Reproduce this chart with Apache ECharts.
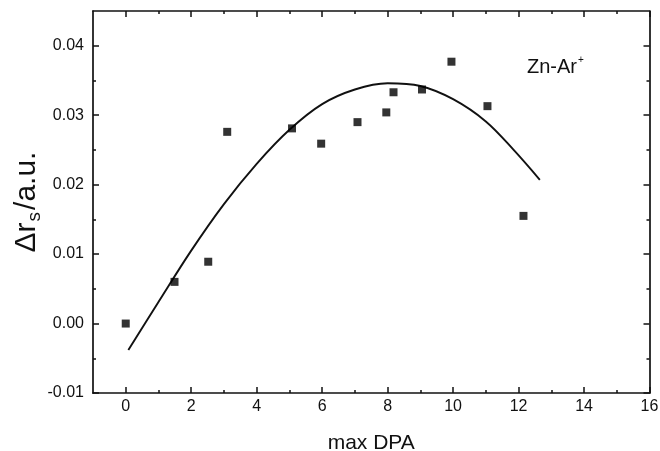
<!DOCTYPE html>
<html>
<head>
<meta charset="utf-8">
<script src="https://cdn.jsdelivr.net/npm/echarts@6/dist/echarts.min.js"></script>
<style>
  html, body { margin: 0; padding: 0; background: #fff; }
  #chart { width: 660px; height: 451px; }
</style>
</head>
<body>
<div id="chart"></div>
<script>
// ---- data ----
const dpaValues = [0, 1.49, 2.52, 3.10, 5.08, 5.97, 7.08, 7.96, 8.18, 9.05, 9.95, 11.05, 12.15];
const drValues  = [0.0000, 0.0060, 0.0089, 0.0276, 0.0281, 0.0259, 0.0290, 0.0304, 0.0333, 0.0337, 0.0377, 0.0313, 0.0155];

// fitted curve at roughly unit steps
const fitX = [0.08, 1, 2, 3, 4, 5, 6, 7, 8, 9, 10, 11, 11.85, 12.65];
const fitY = [-0.0038, 0.0031, 0.0105, 0.0172, 0.0230, 0.0279, 0.0316, 0.0337, 0.0346, 0.0342, 0.0323, 0.0291, 0.0250, 0.0207];

const xMajorTicks = [0, 2, 4, 6, 8, 10, 12, 14, 16];
const xMinorTicks = [1, 3, 5, 7, 9, 11, 13, 15];
const yMajorTicks = [-0.01, 0.00, 0.01, 0.02, 0.03, 0.04];
const yMinorTicks = [-0.005, 0.005, 0.015, 0.025, 0.035];

const xLabel = 'max DPA';
const seriesLabel = 'Zn-Ar';

// ---- chart ----
const FONT = 'Liberation Sans, Arial, sans-serif';
const INK = '#111111';
const chart = echarts.init(document.getElementById('chart'), null, { renderer: 'canvas' });

function xAxisDef(pos, values, tickLen, withLabels, showLine) {
  return {
    type: 'value', position: pos, min: -1, max: 16,
    axisLine: { show: showLine, onZero: false, lineStyle: { color: INK, width: 1.7 } },
    axisTick: { show: true, inside: true, length: tickLen, customValues: values, lineStyle: { color: INK, width: 1.5 } },
    axisLabel: withLabels
      ? { show: true, customValues: values, fontSize: 16, fontFamily: FONT, color: INK, margin: 6 }
      : { show: false },
    splitLine: { show: false }
  };
}
function yAxisDef(pos, values, tickLen, withLabels, showLine) {
  return {
    type: 'value', position: pos, min: -0.01, max: 0.045,
    axisLine: { show: showLine, onZero: false, lineStyle: { color: INK, width: 1.7 } },
    axisTick: { show: true, inside: true, length: tickLen, customValues: values, lineStyle: { color: INK, width: 1.5 } },
    axisLabel: withLabels
      ? { show: true, customValues: values, fontSize: 16, fontFamily: FONT, color: INK, margin: 9,
          formatter: v => v.toFixed(2) }
      : { show: false },
    splitLine: { show: false }
  };
}

const xMain = xAxisDef('bottom', xMajorTicks, 6, true, true);
xMain.name = xLabel;
xMain.nameLocation = 'middle';
xMain.nameGap = 40;
xMain.nameMoveOverlap = false;
xMain.nameTextStyle = { fontSize: 21, fontFamily: FONT, color: INK };

const yMain = yAxisDef('left', yMajorTicks, 6, true, true);
yMain.name = '{m|\u0394r}{s|s}{m|/a.u.}';
yMain.nameLocation = 'middle';
yMain.nameGap = 49;
yMain.nameMoveOverlap = false;
yMain.nameTextStyle = {
  fontSize: 30, fontFamily: FONT, color: INK,
  rich: {
    m: { fontSize: 30, fontFamily: FONT, color: INK, lineHeight: 34 },
    s: { fontSize: 19, fontFamily: FONT, color: INK, lineHeight: 19, verticalAlign: 'bottom', padding: [0, 2, 0, 1] }
  }
};

const option = {
  backgroundColor: '#ffffff',
  animation: false,
  grid: { left: 93, right: 10.5, top: 11, bottom: 58, containLabel: false, outerBoundsMode: 'none' },
  xAxis: [
    xMain,
    xAxisDef('bottom', xMinorTicks, 3, false, false),
    xAxisDef('top', xMajorTicks, 6, false, true),
    xAxisDef('top', xMinorTicks, 3, false, false)
  ],
  yAxis: [
    yMain,
    yAxisDef('left', yMinorTicks, 3, false, false),
    yAxisDef('right', yMajorTicks, 6, false, true),
    yAxisDef('right', yMinorTicks, 3, false, false)
  ],
  graphic: [{
    type: 'text', left: 527, top: 55, z: 10,
    style: {
      text: '{m|' + seriesLabel + '}{p|+}',
      rich: {
        m: { fontSize: 20, fontFamily: FONT, fill: INK, lineHeight: 24 },
        p: { fontSize: 10, fontFamily: FONT, fill: INK, verticalAlign: 'top', lineHeight: 12, padding: [0, 0, 0, 1] }
      }
    }
  }],
  series: [
    {
      type: 'line', name: 'fit', xAxisIndex: 0, yAxisIndex: 0,
      data: fitX.map((x, i) => [x, fitY[i]]),
      smooth: 0.35, showSymbol: false, symbol: 'none',
      lineStyle: { color: INK, width: 1.9 },
      z: 2
    },
    {
      type: 'scatter', name: 'data', xAxisIndex: 0, yAxisIndex: 0,
      data: dpaValues.map((x, i) => [x, drValues[i]]),
      symbol: 'rect', symbolSize: 8,
      itemStyle: { color: '#000' },
      z: 3
    }
  ]
};
chart.setOption(option);
</script>
</body>
</html>
